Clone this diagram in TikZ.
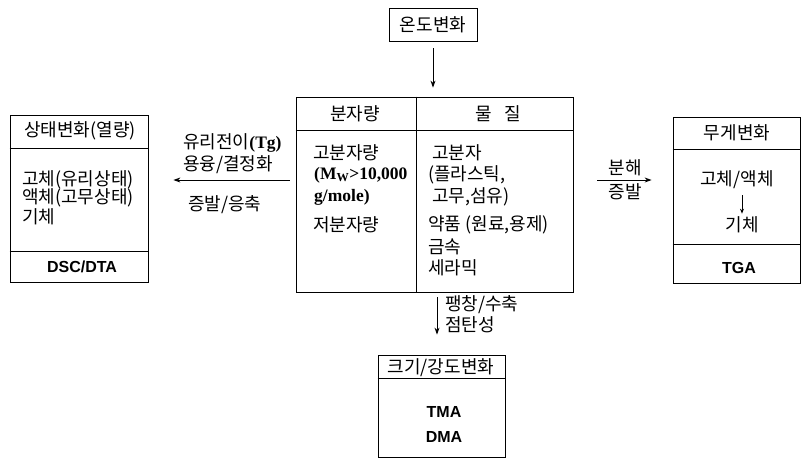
\documentclass[tikz,border=0pt]{standalone}
\usepackage{fontspec}
\setmainfont{Noto Sans CJK KR}
\newfontfamily\serifb{Liberation Serif}
\newfontfamily\sansb{Liberation Sans}
\usetikzlibrary{arrows.meta}
\begin{document}
\begin{tikzpicture}[x=1pt,y=-1pt,
  box/.style={draw, line width=0.8pt, inner sep=0pt, anchor=center},
  lbl/.style={inner sep=0pt, font=\fontsize{18}{20}\selectfont},
  lblw/.style={lbl, anchor=west},
  ser/.style={inner sep=0pt, anchor=west, font=\fontsize{17.5}{19}\serifb\bfseries},
  sanb/.style={inner sep=0pt, font=\fontsize{16}{18}\sansb\bfseries},
  conn/.style={line width=0.9pt, -{Stealth[length=7pt,width=5pt]}}]
\useasboundingbox (0,0) rectangle (806,459);

% top box
\node[box, lbl, minimum width=88pt, minimum height=33pt] (temp) at (433,24.5) {온도변화};

% central box
\node[box, minimum width=277pt, minimum height=195pt] (mid) at (434.5,194.5) {};
\coordinate (midh) at (0,130);
\coordinate (midv) at (416,0);
\draw[line width=0.8pt] (mid.west |- midh) -- (mid.east |- midh);
\draw[line width=0.8pt] (mid.north -| midv) -- (mid.south -| midv);
\node[lbl] (h1) at (355,114) {분자량};
\node[lbl] (h2) at (498,114) {물\hspace{0.7em}질};
\node[lblw] (c1) at (313,153) {고분자량};
\node[ser] (c2) at (314,175) {(M\textsubscript{W}>10,000};
\node[ser] (c3) at (314,197) {g/mole)};
\node[lblw] (c4) at (313,225) {저분자량};
\node[lblw] (d1) at (432,153) {고분자};
\node[lblw] (d2) at (428,175) {(플라스틱,};
\node[lblw] (d3) at (432,197) {고무,섬유)};
\node[lblw] (d4) at (428,225) {약품 (원료,용제)};
\node[lblw] (d5) at (428,247) {금속};
\node[lblw] (d6) at (428,268) {세라믹};

% left box
\node[box, minimum width=138pt, minimum height=167pt] (lb) at (79,198.5) {};
\coordinate (lbh1) at (0,148);
\coordinate (lbh2) at (0,251);
\draw[line width=0.8pt] (lb.west |- lbh1) -- (lb.east |- lbh1);
\draw[line width=0.8pt] (lb.west |- lbh2) -- (lb.east |- lbh2);
\node[lbl] (l0) at (80,131) {상태변화(열량)};
\node[lblw] (l1) at (22,180) {고체(유리상태)};
\node[lblw] (l2) at (22,198) {액체(고무상태)};
\node[lblw] (l3) at (22,217) {기체};
\node[sanb] (l4) at (82,267) {DSC/DTA};

% right box
\node[box, minimum width=127pt, minimum height=166pt] (rb) at (736.5,200) {};
\coordinate (rbh1) at (0,149);
\coordinate (rbh2) at (0,244);
\draw[line width=0.8pt] (rb.west |- rbh1) -- (rb.east |- rbh1);
\draw[line width=0.8pt] (rb.west |- rbh2) -- (rb.east |- rbh2);
\node[lbl] (r0) at (737,133) {무게변화};
\node[lbl] (r1) at (737,180) {고체/액체};
\node[lbl] (r2) at (742,225) {기체};
\node[sanb] (r3) at (739,268) {TGA};
\draw[line width=0.8pt, -{Stealth[length=5pt,width=4pt]}, shorten <=6pt, shorten >=3pt] (r1.south -| r2.north) -- (r2.north);

% bottom box
\node[box, minimum width=127pt, minimum height=102pt] (bb) at (441.5,406) {};
\coordinate (bbh) at (0,378);
\draw[line width=0.8pt] (bb.west |- bbh) -- (bb.east |- bbh);
\node[lbl] (b0) at (441,368) {크기/강도변화};
\node[sanb] (b1) at (444,412) {TMA};
\node[sanb] (b2) at (444,437) {DMA};

% connectors
\draw[conn, shorten <=7pt, shorten >=9pt] (temp.south) -- (mid.north -| temp.south);

\coordinate (ly) at (0,180);
\draw[conn, shorten <=6pt, shorten >=25pt] (mid.west |- ly) -- (lb.east |- ly);
\node[lblw] (t1) at (183,143) {유리전이{\fontsize{17.5}{19}\serifb\bfseries(Tg)}};
\node[lblw] (t2) at (183,165) {용융/결정화};
\node[lblw] (t3) at (188,205) {증발/응축};

\draw[conn, shorten <=24pt, shorten >=21pt] (mid.east |- ly) -- (rb.west |- ly);
\node[lbl] (u1) at (625,168) {분해};
\node[lbl] (u2) at (625,192) {증발};

\coordinate (bx) at (437,0);
\draw[conn, shorten <=5pt, shorten >=20pt] (mid.south -| bx) -- (bb.north -| bx);
\node[lblw] (v1) at (445,305) {팽창/수축};
\node[lblw] (v2) at (445,325) {점탄성};
\end{tikzpicture}
\end{document}
